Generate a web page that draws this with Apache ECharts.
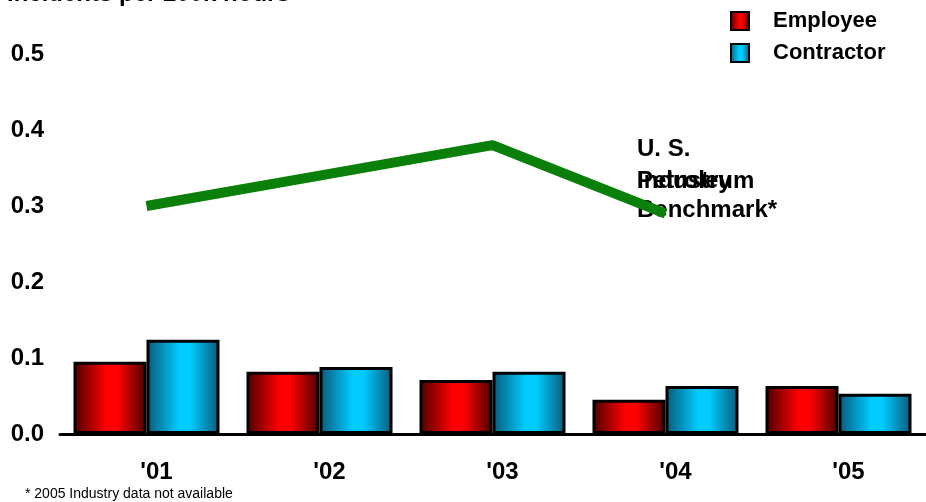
<!DOCTYPE html>
<html>
<head>
<meta charset="utf-8">
<script src="https://cdn.jsdelivr.net/npm/echarts@6/dist/echarts.min.js"></script>
<style>
  html, body { margin: 0; padding: 0; background: #fff; }
  #chart { width: 926px; height: 502px; }
</style>
</head>
<body>
<div id="chart"></div>
<script>
// Safety incident rates per 200k hours worked
const years = ["'01", "'02", "'03", "'04", "'05"];
const employee = [0.095, 0.082, 0.071, 0.045, 0.063];
const contractor = [0.124, 0.088, 0.082, 0.063, 0.053];
// Industry benchmark (no 2005 figure available)
const benchmark = [0.30, 0.34, 0.38, 0.29, null];
const yTicks = [0, 0.1, 0.2, 0.3, 0.4, 0.5];

const FONT = 'Liberation Sans, Arial, sans-serif';

function barGradient(edge, mid) {
  return new echarts.graphic.LinearGradient(0, 0, 1, 0, [
    { offset: 0, color: edge },
    { offset: 0.45, color: mid },
    { offset: 0.6, color: mid },
    { offset: 1, color: edge }
  ]);
}

const chart = echarts.init(document.getElementById('chart'), null, { renderer: 'canvas' });

chart.setOption({
  animation: false,
  backgroundColor: '#ffffff',
  grid: { left: 60, right: 1, top: 54, bottom: 68, containLabel: false },
  legend: {
    data: ['Employee', 'Contractor'],
    orient: 'vertical',
    left: 730,
    top: 10,
    padding: 0,
    icon: 'rect',
    itemWidth: 18,
    itemHeight: 18,
    itemGap: 10,
    textStyle: { fontFamily: FONT, fontWeight: 'bold', fontSize: 22, color: '#000', padding: [0, 0, 0, 19] }
  },
  xAxis: {
    type: 'category',
    data: years,
    axisLine: { show: true, lineStyle: { color: '#000', width: 3 } },
    axisTick: { show: false },
    axisLabel: {
      margin: 26,
      fontFamily: FONT, fontWeight: 'bold', fontSize: 24, color: '#000',
      padding: [0, 0, 0, 20]
    }
  },
  yAxis: {
    type: 'value',
    min: 0,
    max: 0.5,
    interval: 0.1,
    splitLine: { show: false },
    axisLine: { show: false },
    axisTick: { show: false },
    axisLabel: {
      margin: 16,
      fontFamily: FONT, fontWeight: 'bold', fontSize: 24, color: '#000',
      formatter: v => (yTicks.indexOf(Math.round(v * 10) / 10) >= 0 ? v.toFixed(1) : '')
    }
  },
  series: [
    {
      name: 'Employee',
      type: 'bar',
      data: employee,
      barWidth: 73,
      barGap: '0%',
      itemStyle: { color: barGradient('#4a0000', '#ff0000'), borderColor: '#000', borderWidth: 3 }
    },
    {
      name: 'Contractor',
      type: 'bar',
      data: contractor,
      barWidth: 73,
      barGap: '0%',
      itemStyle: { color: barGradient('#0a5878', '#00ccff'), borderColor: '#000', borderWidth: 3 }
    },
    {
      name: 'U. S. Petroleum Industry Benchmark*',
      type: 'line',
      data: benchmark,
      symbol: 'none',
      connectNulls: false,
      z: 5,
      lineStyle: { color: '#0a800a', width: 10, cap: 'butt' }
    }
  ],
  graphic: [
    {
      type: 'text', left: 7, top: -18,
      style: { text: 'Incidents per 200k hours', font: 'bold 24px ' + FONT, fill: '#000' }
    },
    {
      type: 'text', left: 637, top: 137,
      style: { text: 'U. S.', font: 'bold 24px ' + FONT, fill: '#000' }
    },
    {
      type: 'text', left: 637, top: 169,
      style: { text: 'Petroleum', font: 'bold 24px ' + FONT, fill: '#000' }
    },
    {
      type: 'text', left: 637, top: 169,
      style: { text: 'Industry', font: 'bold 24px ' + FONT, fill: '#000' }
    },
    {
      type: 'text', left: 637, top: 198,
      style: { text: 'Benchmark*', font: 'bold 24px ' + FONT, fill: '#000' }
    },
    {
      type: 'text', left: 25, top: 487,
      style: { text: '* 2005 Industry data not available', font: '14px ' + FONT, fill: '#000' }
    }
  ]
});
</script>
</body>
</html>
